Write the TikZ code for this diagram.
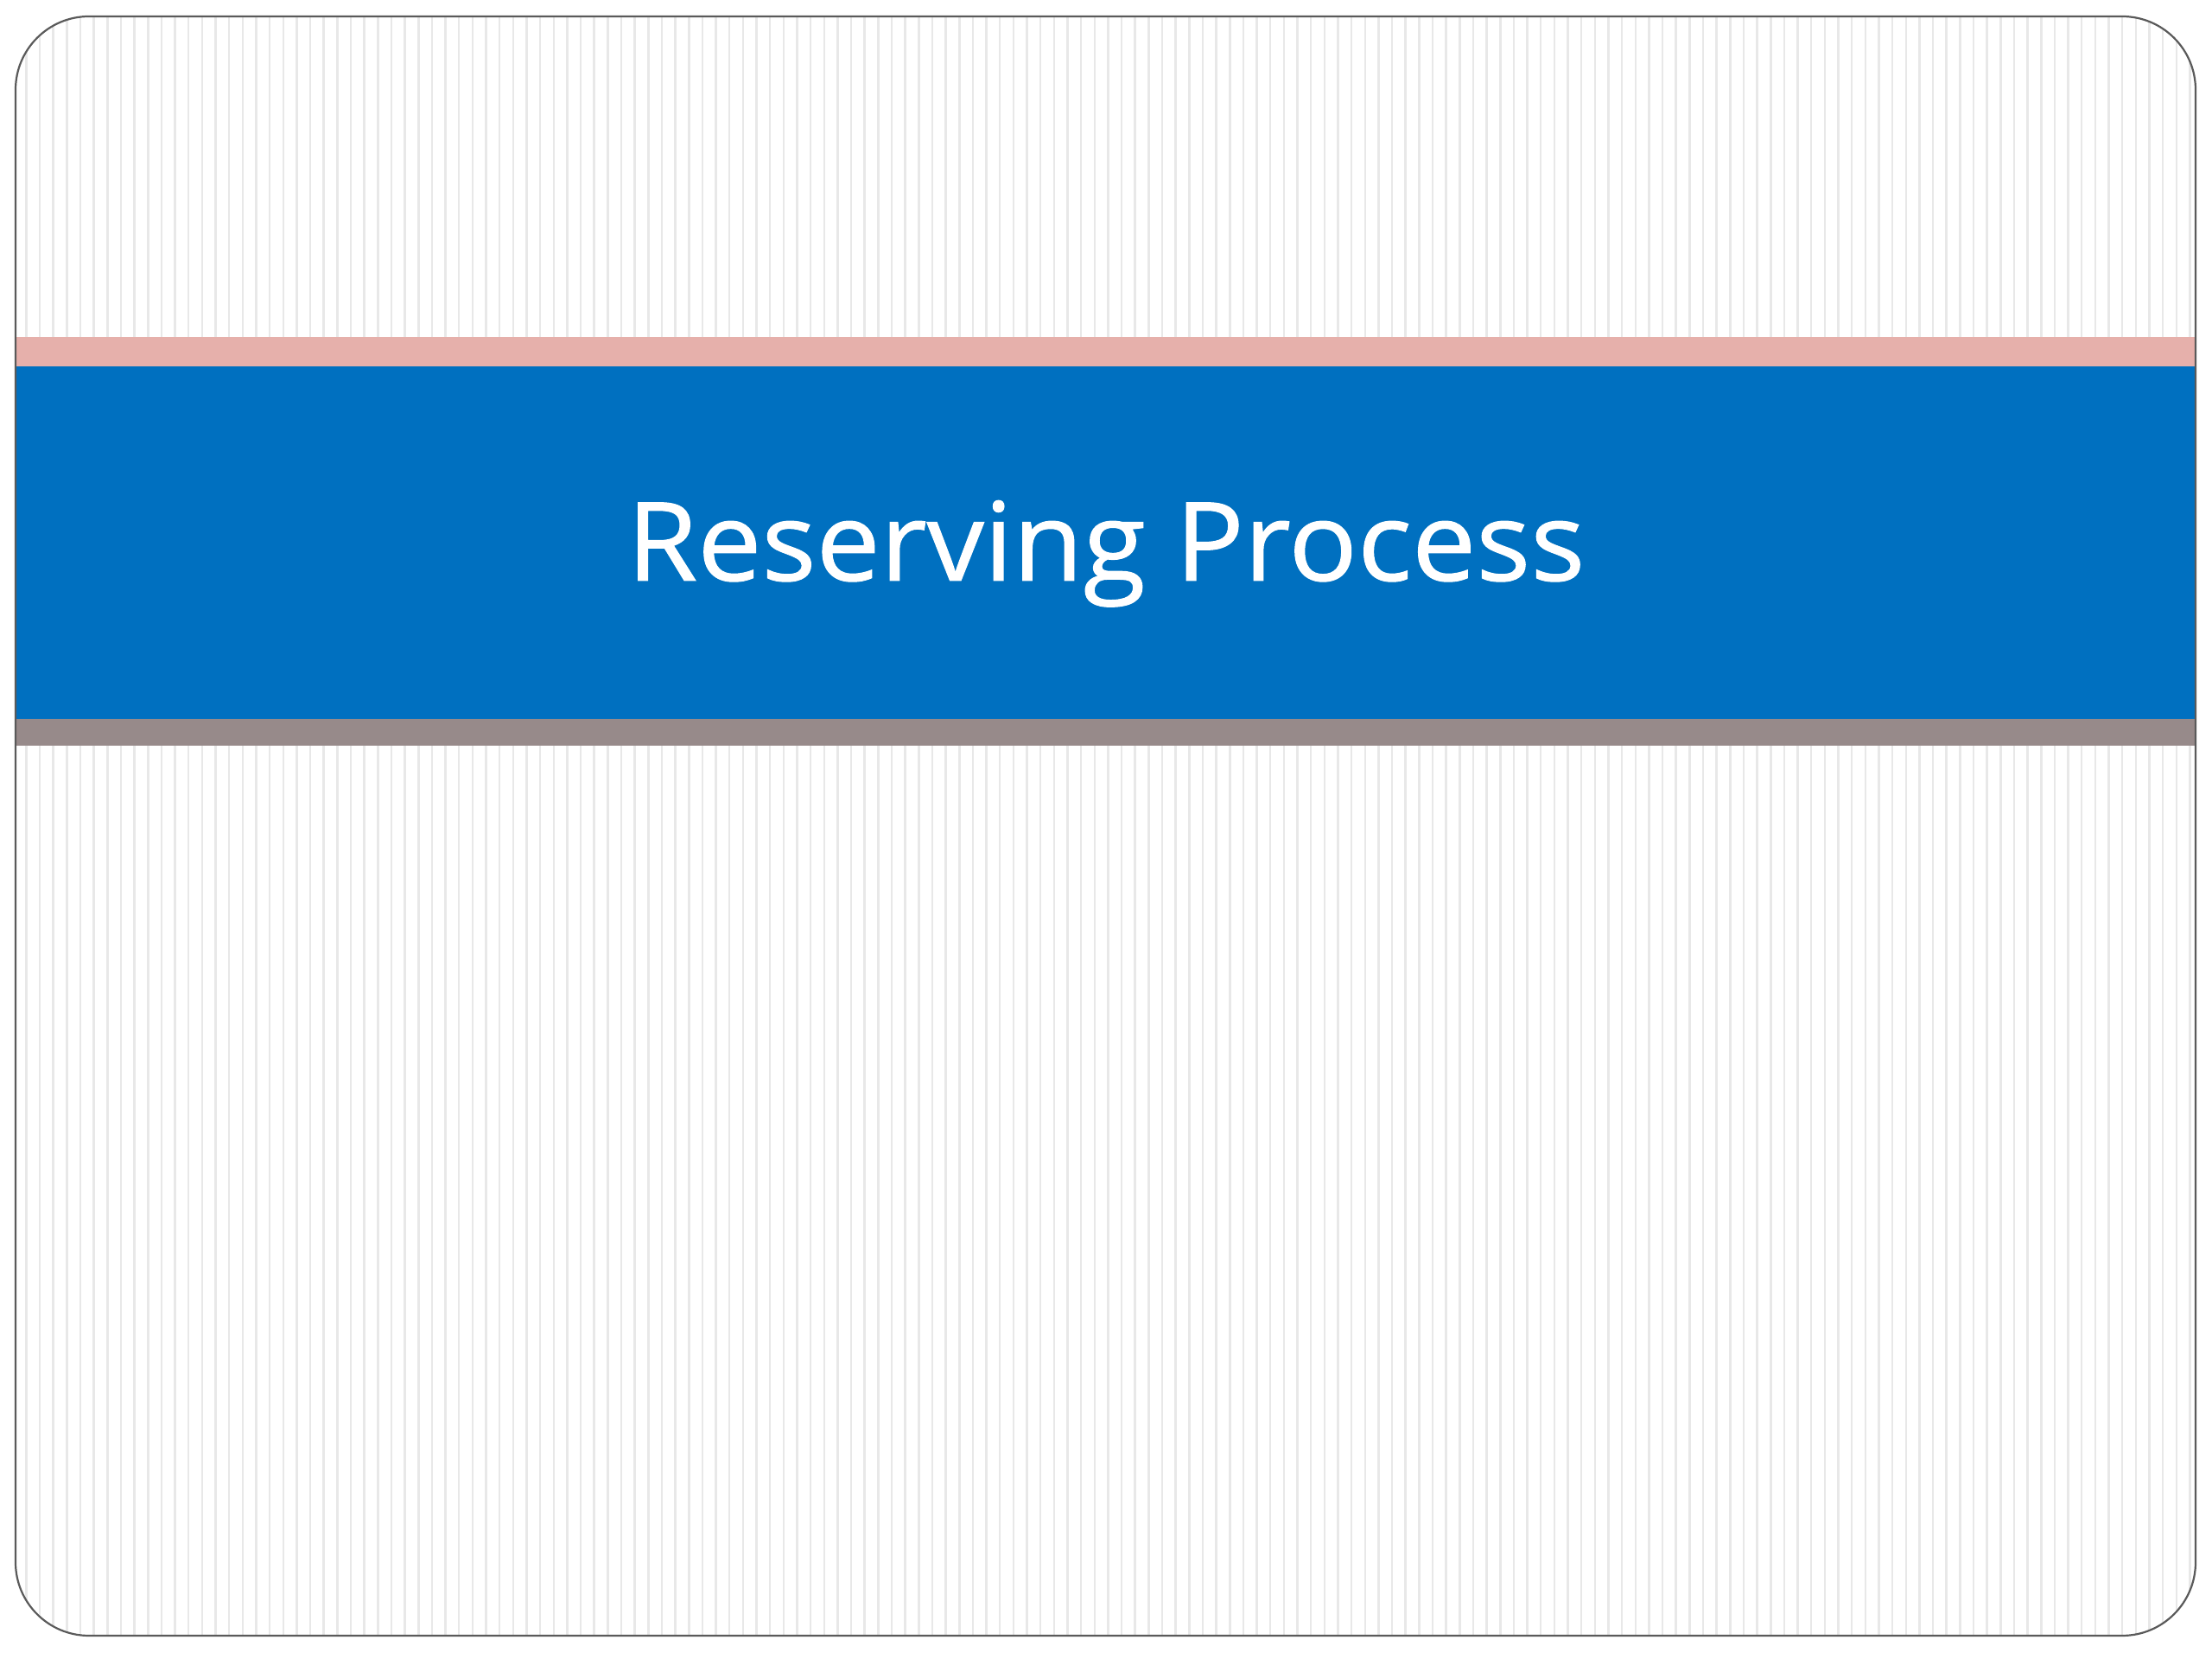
\documentclass[tikz,border=0pt]{standalone}
\usepackage{fontspec}
\setsansfont{Open Sans}
\newfontfamily\titlefont[FakeBold=0.8]{Open Sans}
\usetikzlibrary{positioning}
\definecolor{bandblue}{HTML}{0070C0}
\definecolor{bandpink}{HTML}{E6B0AB}
\definecolor{bandgray}{HTML}{978A8A}
\definecolor{framegray}{HTML}{5A5A5A}
\definecolor{stripegray}{HTML}{E8E8E8}

\begin{document}
\begin{tikzpicture}[
    x=1mm, y=1mm,
    every node/.style={font=\sffamily},
    frame/.style={draw=framegray, line width=0.22mm, rounded corners=8.5mm},
    stripe/.style={draw=stripegray, line width=0.25mm},
    band/.style={inner sep=0pt, outer sep=0pt, anchor=north west, minimum width=252.4mm},
    titletext/.style={text=white, font=\titlefont\fontsize{36}{43}\selectfont, anchor=base, xscale=1.045, transform shape}
]
    \useasboundingbox (0,0) rectangle (256,192);

    % Striped background
    \begin{scope}
        \clip[rounded corners=8.5mm] (1.8,2.7) rectangle (254.1,190.1);
        \fill[white] (1.8,2.7) rectangle (254.1,190.1);
        \foreach \i in {0,...,160}
            \draw[stripe] ({3.04+\i*1.565},2.7) -- ++(0,187.4);
    \end{scope}

    % Bands
    \node[band, fill=bandpink, minimum height=3.4mm] (pinkband) at (1.8,153.0) {};
    \node[band, fill=bandblue, minimum height=40.8mm] (blueband) at (pinkband.south west) {};
    \node[band, fill=bandgray, minimum height=3.1mm] (grayband) at (blueband.south west) {};

    % Title
    \node[titletext] (title) at (128.0,124.8) {Reserving Process};

    % Frame
    \draw[frame] (1.8,2.7) rectangle (254.1,190.1);
\end{tikzpicture}
\end{document}
